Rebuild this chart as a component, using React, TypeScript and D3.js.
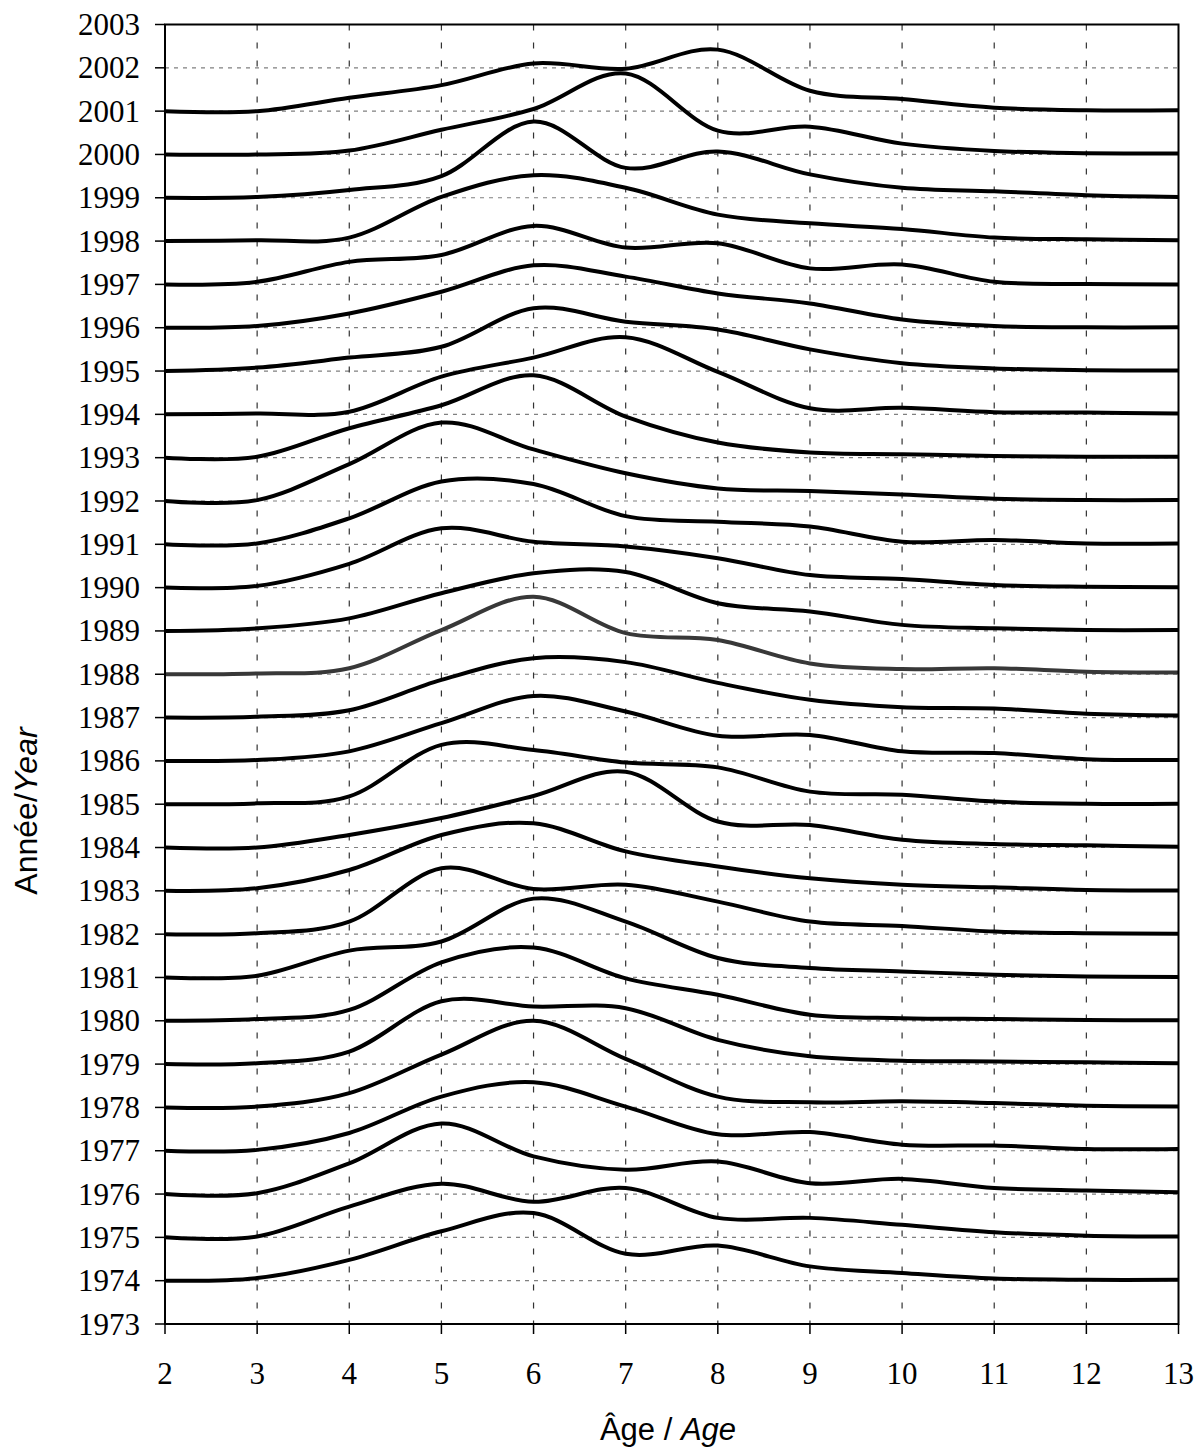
import * as d3 from 'd3';

// ages on the x axis
const ages = [2, 3, 4, 5, 6, 7, 8, 9, 10, 11, 12, 13];

// ridge heights above each year's baseline (in year units), ages 2..13
const y1974 = [0, 0.06, 0.48, 1.14, 1.56, 0.62, 0.81, 0.33, 0.18, 0.05, 0.02, 0.02];
const y1975 = [0, 0.02, 0.71, 1.24, 0.82, 1.14, 0.45, 0.45, 0.29, 0.12, 0.04, 0.02];
const y1976 = [0, 0.02, 0.71, 1.63, 0.87, 0.56, 0.75, 0.25, 0.35, 0.14, 0.08, 0.04];
const y1977 = [0, 0.02, 0.41, 1.25, 1.58, 1.02, 0.38, 0.43, 0.14, 0.12, 0.04, 0.04];
const y1978 = [0, 0.02, 0.33, 1.22, 2.0, 1.12, 0.25, 0.12, 0.14, 0.1, 0.04, 0.02];
const y1979 = [0, 0.02, 0.29, 1.45, 1.33, 1.29, 0.56, 0.18, 0.08, 0.06, 0.04, 0.02];
const y1980 = [0, 0.04, 0.25, 1.35, 1.69, 0.98, 0.6, 0.14, 0.06, 0.04, 0.02, 0.01];
const y1981 = [0, 0.04, 0.62, 0.83, 1.82, 1.29, 0.45, 0.22, 0.14, 0.06, 0.02, 0.01];
const y1982 = [0, 0.02, 0.29, 1.52, 1.04, 1.14, 0.75, 0.29, 0.19, 0.06, 0.02, 0.01];
const y1983 = [0, 0.06, 0.48, 1.29, 1.56, 0.91, 0.56, 0.29, 0.14, 0.08, 0.02, 0.01];
const y1984 = [0, 0, 0.29, 0.68, 1.19, 1.75, 0.6, 0.52, 0.18, 0.08, 0.05, 0.02];
const y1985 = [0, 0.02, 0.18, 1.37, 1.25, 0.96, 0.85, 0.29, 0.22, 0.06, 0.01, 0.01];
const y1986 = [0, 0.02, 0.22, 0.87, 1.5, 1.14, 0.58, 0.6, 0.22, 0.18, 0.04, 0.02];
const y1987 = [0, 0.02, 0.17, 0.87, 1.37, 1.28, 0.8, 0.41, 0.24, 0.21, 0.09, 0.05];
const y1988 = [0, 0.02, 0.14, 1.02, 1.79, 0.95, 0.79, 0.25, 0.12, 0.14, 0.06, 0.04];
const y1989 = [0, 0.06, 0.29, 0.87, 1.33, 1.36, 0.64, 0.45, 0.14, 0.06, 0.02, 0.02];
const y1990 = [0, 0.04, 0.55, 1.37, 1.06, 0.95, 0.68, 0.29, 0.2, 0.06, 0.02, 0.01];
const y1991 = [0, 0.02, 0.6, 1.45, 1.39, 0.65, 0.52, 0.41, 0.06, 0.1, 0.02, 0.02];
const y1992 = [0, 0.02, 0.85, 1.81, 1.19, 0.64, 0.29, 0.23, 0.15, 0.05, 0.02, 0.02];
const y1993 = [0, 0.02, 0.68, 1.21, 1.9, 0.95, 0.35, 0.12, 0.08, 0.04, 0.02, 0.02];
const y1994 = [0, 0.02, 0.06, 0.87, 1.31, 1.78, 0.98, 0.14, 0.15, 0.05, 0.04, 0.02];
const y1995 = [0, 0.08, 0.31, 0.56, 1.45, 1.14, 0.96, 0.5, 0.18, 0.06, 0.02, 0.01];
const y1996 = [0, 0.04, 0.33, 0.83, 1.44, 1.18, 0.79, 0.56, 0.19, 0.04, 0.01, 0.01];
const y1997 = [0, 0.06, 0.52, 0.68, 1.35, 0.85, 0.95, 0.37, 0.46, 0.06, 0.01, 0];
const y1998 = [0, 0.02, 0.08, 1.02, 1.52, 1.23, 0.61, 0.41, 0.28, 0.08, 0.04, 0.02];
const y1999 = [0, 0.02, 0.18, 0.5, 1.76, 0.69, 1.07, 0.54, 0.23, 0.15, 0.06, 0.02];
const y2000 = [0, 0, 0.09, 0.57, 1.05, 1.87, 0.55, 0.64, 0.25, 0.08, 0.03, 0.02];
const y2001 = [0, 0, 0.31, 0.6, 1.1, 0.98, 1.42, 0.47, 0.28, 0.08, 0.02, 0.02];

const ridges: [number, number[]][] = [
  [1974, y1974], [1975, y1975], [1976, y1976], [1977, y1977], [1978, y1978],
  [1979, y1979], [1980, y1980], [1981, y1981], [1982, y1982], [1983, y1983],
  [1984, y1984], [1985, y1985], [1986, y1986], [1987, y1987], [1988, y1988],
  [1989, y1989], [1990, y1990], [1991, y1991], [1992, y1992], [1993, y1993],
  [1994, y1994], [1995, y1995], [1996, y1996], [1997, y1997], [1998, y1998],
  [1999, y1999], [2000, y2000], [2001, y2001],
];

const yearTicks = d3.range(1973, 2004);
const ageTicks = d3.range(2, 14);

export default function App() {
  const width = 1198;
  const height = 1449;
  const left = 165;
  const right = 1178.5;
  const top = 24.5;
  const bottom = 1324;

  const x = d3.scaleLinear([2, 13], [left, right]);
  const y = d3.scaleLinear([1973, 2003], [bottom, top]);

  const serif = '"Liberation Serif", "Times New Roman", serif';
  const sans = '"Liberation Sans", Arial, sans-serif';

  return (
    <svg
      width={width}
      height={height}
      style={{ position: 'absolute', left: 0, top: 0, background: '#fff' }}
    >
      {/* grid */}
      <g stroke="#808080" strokeWidth={1.2} strokeDasharray="4,5">
        {yearTicks.slice(1, -1).map((t) => (
          <line key={t} x1={left} x2={right} y1={y(t)} y2={y(t)} />
        ))}
      </g>
      <g stroke="#333" strokeWidth={1.2} strokeDasharray="6,12">
        {ageTicks.slice(1, -1).map((t) => (
          <line key={t} x1={x(t)} x2={x(t)} y1={top} y2={bottom} />
        ))}
      </g>

      {/* ridges */}
      <g fill="none" strokeWidth={4} strokeLinejoin="round">
        {ridges.map(([year, vals]) => {
          const line = d3
            .line<number>()
            .x((_, i) => x(ages[i]))
            .y((d) => y(year + d))
            .curve(d3.curveCardinal);
          return (
            <path key={year} d={line(vals) ?? ''} stroke={year === 1988 ? '#383838' : '#000'} />
          );
        })}
      </g>

      {/* frame */}
      <rect x={left} y={top} width={right - left} height={bottom - top} fill="none" stroke="#000" strokeWidth={2} />

      {/* y axis */}
      <g stroke="#000" strokeWidth={1.5}>
        {yearTicks.map((t) => (
          <line key={t} x1={left - 10} x2={left} y1={y(t)} y2={y(t)} />
        ))}
      </g>
      <g fontFamily={serif} fontSize={31} textAnchor="end" fill="#000">
        {yearTicks.map((t) => (
          <text key={t} x={140} y={y(t)} dy="0.34em">
            {t}
          </text>
        ))}
      </g>

      {/* x axis */}
      <g stroke="#000" strokeWidth={1.5}>
        {ageTicks.map((t) => (
          <line key={t} x1={x(t)} x2={x(t)} y1={bottom} y2={bottom + 10} />
        ))}
      </g>
      <g fontFamily={serif} fontSize={31} textAnchor="middle" fill="#000">
        {ageTicks.map((t) => (
          <text key={t} x={x(t)} y={1384}>
            {t}
          </text>
        ))}
      </g>

      {/* titles */}
      <text x={668} y={1440} fontFamily={sans} fontSize={31} textAnchor="middle">
        Âge / <tspan fontStyle="italic">Age</tspan>
      </text>
      <text
        transform="translate(37,811) rotate(-90)"
        fontFamily={sans}
        fontSize={32}
        textAnchor="middle"
      >
        Année/<tspan fontStyle="italic">Year</tspan>
      </text>
    </svg>
  );
}
